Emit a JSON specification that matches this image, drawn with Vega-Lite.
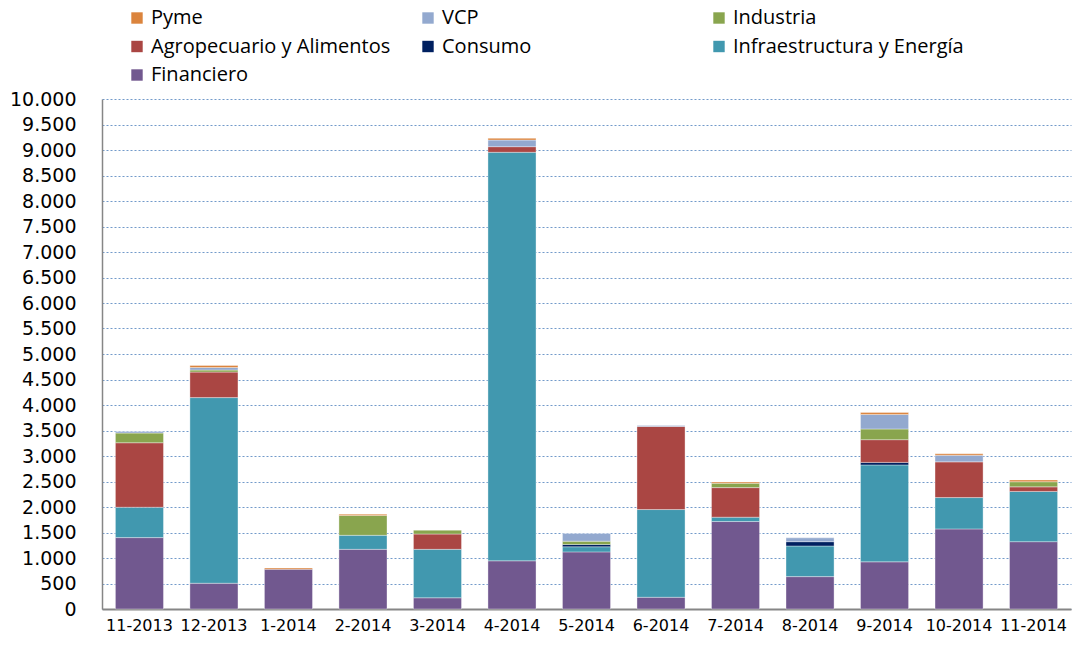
{
  "$schema": "https://vega.github.io/schema/vega-lite/v6.json",
  "autosize": "none",
  "width": 969,
  "height": 510,
  "padding": {"left": 102, "top": 99, "right": 4, "bottom": 40},
  "background": "white",
  "data": {
    "values": [
      {"mes": "11-2013", "sector": "Financiero", "n": 1, "valor": 1400},
      {"mes": "11-2013", "sector": "Infraestructura y Energía", "n": 2, "valor": 595},
      {"mes": "11-2013", "sector": "Agropecuario y Alimentos", "n": 4, "valor": 1265},
      {"mes": "11-2013", "sector": "Industria", "n": 5, "valor": 190},
      {"mes": "11-2013", "sector": "VCP", "n": 6, "valor": 30},
      {"mes": "12-2013", "sector": "Financiero", "n": 1, "valor": 505},
      {"mes": "12-2013", "sector": "Infraestructura y Energía", "n": 2, "valor": 3640},
      {"mes": "12-2013", "sector": "Agropecuario y Alimentos", "n": 4, "valor": 500},
      {"mes": "12-2013", "sector": "Industria", "n": 5, "valor": 40},
      {"mes": "12-2013", "sector": "VCP", "n": 6, "valor": 50},
      {"mes": "12-2013", "sector": "Pyme", "n": 7, "valor": 40},
      {"mes": "1-2014", "sector": "Financiero", "n": 1, "valor": 780},
      {"mes": "1-2014", "sector": "Pyme", "n": 7, "valor": 25},
      {"mes": "2-2014", "sector": "Financiero", "n": 1, "valor": 1170},
      {"mes": "2-2014", "sector": "Infraestructura y Energía", "n": 2, "valor": 275},
      {"mes": "2-2014", "sector": "Industria", "n": 5, "valor": 390},
      {"mes": "2-2014", "sector": "Pyme", "n": 7, "valor": 25},
      {"mes": "3-2014", "sector": "Financiero", "n": 1, "valor": 220},
      {"mes": "3-2014", "sector": "Infraestructura y Energía", "n": 2, "valor": 950},
      {"mes": "3-2014", "sector": "Agropecuario y Alimentos", "n": 4, "valor": 300},
      {"mes": "3-2014", "sector": "Industria", "n": 5, "valor": 75},
      {"mes": "4-2014", "sector": "Financiero", "n": 1, "valor": 945},
      {"mes": "4-2014", "sector": "Infraestructura y Energía", "n": 2, "valor": 8010},
      {"mes": "4-2014", "sector": "Agropecuario y Alimentos", "n": 4, "valor": 110},
      {"mes": "4-2014", "sector": "VCP", "n": 6, "valor": 130},
      {"mes": "4-2014", "sector": "Pyme", "n": 7, "valor": 35},
      {"mes": "5-2014", "sector": "Financiero", "n": 1, "valor": 1120},
      {"mes": "5-2014", "sector": "Infraestructura y Energía", "n": 2, "valor": 100},
      {"mes": "5-2014", "sector": "Consumo", "n": 3, "valor": 45},
      {"mes": "5-2014", "sector": "Industria", "n": 5, "valor": 65},
      {"mes": "5-2014", "sector": "VCP", "n": 6, "valor": 150},
      {"mes": "6-2014", "sector": "Financiero", "n": 1, "valor": 230},
      {"mes": "6-2014", "sector": "Infraestructura y Energía", "n": 2, "valor": 1720},
      {"mes": "6-2014", "sector": "Agropecuario y Alimentos", "n": 4, "valor": 1630},
      {"mes": "6-2014", "sector": "VCP", "n": 6, "valor": 20},
      {"mes": "7-2014", "sector": "Financiero", "n": 1, "valor": 1715},
      {"mes": "7-2014", "sector": "Infraestructura y Energía", "n": 2, "valor": 85},
      {"mes": "7-2014", "sector": "Agropecuario y Alimentos", "n": 4, "valor": 580},
      {"mes": "7-2014", "sector": "Industria", "n": 5, "valor": 85},
      {"mes": "7-2014", "sector": "Pyme", "n": 7, "valor": 25},
      {"mes": "8-2014", "sector": "Financiero", "n": 1, "valor": 635},
      {"mes": "8-2014", "sector": "Infraestructura y Energía", "n": 2, "valor": 600},
      {"mes": "8-2014", "sector": "Consumo", "n": 3, "valor": 85},
      {"mes": "8-2014", "sector": "VCP", "n": 6, "valor": 75},
      {"mes": "9-2014", "sector": "Financiero", "n": 1, "valor": 925},
      {"mes": "9-2014", "sector": "Infraestructura y Energía", "n": 2, "valor": 1900},
      {"mes": "9-2014", "sector": "Consumo", "n": 3, "valor": 50},
      {"mes": "9-2014", "sector": "Agropecuario y Alimentos", "n": 4, "valor": 445},
      {"mes": "9-2014", "sector": "Industria", "n": 5, "valor": 210},
      {"mes": "9-2014", "sector": "VCP", "n": 6, "valor": 285},
      {"mes": "9-2014", "sector": "Pyme", "n": 7, "valor": 40},
      {"mes": "10-2014", "sector": "Financiero", "n": 1, "valor": 1570},
      {"mes": "10-2014", "sector": "Infraestructura y Energía", "n": 2, "valor": 615},
      {"mes": "10-2014", "sector": "Agropecuario y Alimentos", "n": 4, "valor": 700},
      {"mes": "10-2014", "sector": "VCP", "n": 6, "valor": 130},
      {"mes": "10-2014", "sector": "Pyme", "n": 7, "valor": 30},
      {"mes": "11-2014", "sector": "Financiero", "n": 1, "valor": 1320},
      {"mes": "11-2014", "sector": "Infraestructura y Energía", "n": 2, "valor": 985},
      {"mes": "11-2014", "sector": "Agropecuario y Alimentos", "n": 4, "valor": 90},
      {"mes": "11-2014", "sector": "Industria", "n": 5, "valor": 100},
      {"mes": "11-2014", "sector": "Pyme", "n": 7, "valor": 35}
    ]
  },
  "mark": {"type": "bar", "stroke": "white", "strokeWidth": 0.6, "strokeOpacity": 0.6},
  "encoding": {
    "x": {
      "field": "mes",
      "type": "nominal",
      "sort": null,
      "scale": {"paddingInner": 0.355, "paddingOuter": 0.18},
      "axis": {
        "title": null,
        "labelAngle": 0,
        "labelFont": "DejaVu Sans",
        "labelFontSize": 16,
        "labelColor": "#000000",
        "labelPadding": 8,
        "ticks": false,
        "domainColor": "#868686",
        "domainWidth": 2
      }
    },
    "y": {
      "field": "valor",
      "type": "quantitative",
      "stack": "zero",
      "scale": {"domain": [0, 10000], "nice": false},
      "axis": {
        "title": null,
        "values": [0, 500, 1000, 1500, 2000, 2500, 3000, 3500, 4000, 4500, 5000, 5500, 6000, 6500, 7000, 7500, 8000, 8500, 9000, 9500, 10000],
        "labelExpr": "replace(format(datum.value, ','), ',', '.')",
        "labelFont": "DejaVu Sans",
        "labelFontSize": 19,
        "labelColor": "#000000",
        "labelPadding": 26,
        "ticks": false,
        "domainColor": "#868686",
        "domainWidth": 1.5,
        "grid": true,
        "gridColor": "#4F81BD",
        "gridDash": [2, 2],
        "gridWidth": 1,
        "gridOpacity": 0.8
      }
    },
    "order": {"field": "n", "type": "quantitative", "sort": "ascending"},
    "color": {
      "field": "sector",
      "type": "nominal",
      "scale": {
        "domain": ["Financiero", "Infraestructura y Energía", "Consumo", "Agropecuario y Alimentos", "Industria", "VCP", "Pyme"],
        "range": ["#71588F", "#4198AF", "#002060", "#AA4643", "#89A54E", "#93A9CF", "#DB843D"]
      },
      "legend": {
        "title": null,
        "orient": "none",
        "legendX": 25,
        "legendY": -91,
        "direction": "horizontal",
        "columns": 3,
        "gridAlign": "all",
        "columnPadding": 27,
        "rowPadding": 8.5,
        "values": ["Pyme", "VCP", "Industria", "Agropecuario y Alimentos", "Consumo", "Infraestructura y Energía", "Financiero"],
        "symbolType": "square",
        "symbolSize": 130,
        "symbolStrokeWidth": 0,
        "labelFont": "Open Sans",
        "labelFontSize": 20,
        "labelColor": "#000000",
        "labelOffset": 4,
        "labelLimit": 400
      }
    }
  },
  "config": {
    "view": {"stroke": null}
  }
}
